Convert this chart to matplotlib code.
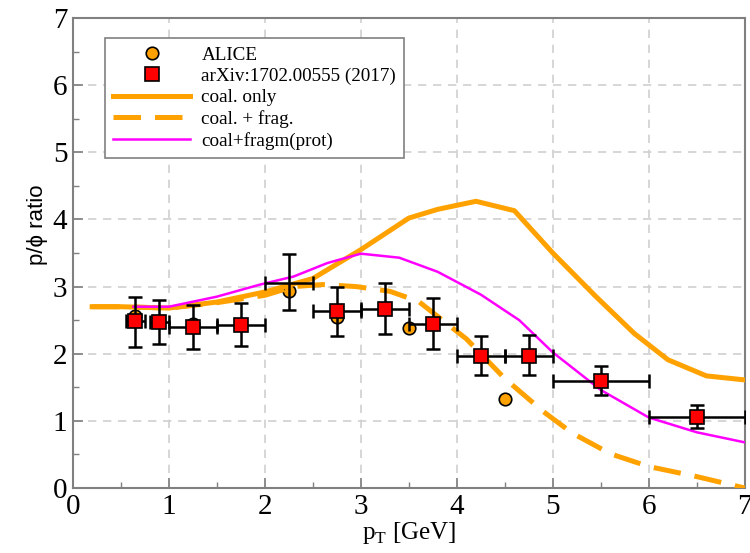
import matplotlib.pyplot as plt
import numpy as np

# arXiv:1702.00555 points
sq_x = [0.65, 0.9, 1.25, 1.75, 2.25, 2.75, 3.25, 3.75, 4.25, 4.75, 5.5, 6.5]
sq_y = [2.48, 2.47, 2.40, 2.43, 3.05, 2.63, 2.67, 2.44, 1.97, 1.97, 1.59, 1.06]
sq_xerr = [0.1, 0.1, 0.25, 0.25, 0.25, 0.25, 0.25, 0.25, 0.25, 0.25, 0.5, 0.5]
sq_ylo = [2.10, 2.15, 2.07, 2.12, 2.65, 2.27, 2.30, 2.07, 1.68, 1.68, 1.38, 0.90]
sq_yhi = [2.85, 2.80, 2.73, 2.75, 3.48, 3.00, 3.05, 2.83, 2.27, 2.28, 1.82, 1.23]
sq_show = [1, 1, 1, 1, 0, 1, 1, 1, 1, 1, 1, 1]

# ALICE
al_x = [0.65, 1.25, 2.25, 2.75, 3.5, 4.5]
al_y = [2.56, 2.45, 2.93, 2.55, 2.39, 1.32]

# coal. only
co_x = [0.2, 0.5, 1.0, 1.5, 2.0, 2.5, 3.0, 3.5, 3.8, 4.2, 4.6, 5.0, 5.45, 5.85, 6.2, 6.6, 7.0]
co_y = [2.70, 2.70, 2.68, 2.77, 2.92, 3.12, 3.55, 4.02, 4.15, 4.27, 4.13, 3.50, 2.85, 2.30, 1.91, 1.67, 1.61]

# coal. + frag.
cf_x = [0.2, 0.5, 1.0, 1.5, 2.0, 2.3, 2.6, 2.95, 3.3, 3.6, 4.1, 4.5, 4.9, 5.2, 5.6, 6.0, 6.5, 7.0]
cf_y = [2.70, 2.70, 2.68, 2.76, 2.87, 3.00, 3.03, 3.00, 2.93, 2.78, 2.22, 1.63, 1.14, 0.82, 0.51, 0.32, 0.17, 0.0]

# coal+fragm(prot)
cp_x = [0.63, 1.0, 1.5, 1.95, 2.3, 2.65, 3.0, 3.4, 3.8, 4.25, 4.65, 5.0, 5.5, 6.0, 6.5, 7.0]
cp_y = [2.70, 2.70, 2.85, 3.03, 3.15, 3.35, 3.49, 3.43, 3.22, 2.88, 2.50, 2.02, 1.46, 1.05, 0.83, 0.68]

orange = '#FFA200'

fig = plt.figure(figsize=(7.5, 5.53), dpi=100)
ax = fig.add_axes([0.0973, 0.1175, 0.8957, 0.85])

ax.plot(al_x, al_y, 'o', color=orange, mec='black', mew=1.2, ms=9, zorder=2,
        label='ALICE')
ax.plot(co_x, co_y, '-', color=orange, lw=3.6, zorder=3, label='coal. only')
ax.plot(cf_x, cf_y, '--', color=orange, lw=3.6, dashes=(5.5, 2.8), zorder=3,
        label='coal. + frag.')
ax.plot(cp_x, cp_y, '-', color='#FF00FF', lw=1.8, zorder=3, label='coal+fragm(prot)')

yerr = [np.array(sq_y) - np.array(sq_ylo), np.array(sq_yhi) - np.array(sq_y)]
ax.errorbar(sq_x, sq_y, xerr=sq_xerr, yerr=yerr, fmt='none', ecolor='black',
            elinewidth=1.8, capsize=5, capthick=1.8, zorder=4)
m = np.array(sq_show) == 1
ax.plot(np.array(sq_x)[m], np.array(sq_y)[m], 's', color='#FF0000',
        mec='black', mew=1.2, ms=9.5, zorder=5, label='arXiv:1702.00555 (2017)')

ax.set_xlim(0, 7)
ax.set_ylim(0, 7)
ax.set_xticks(range(8))
ax.set_yticks(range(8))
ax.set_xticks(np.arange(0.5, 7, 1), minor=True)
ax.set_yticks(np.arange(0.5, 7, 1), minor=True)
ax.tick_params(which='both', direction='in', color='#808080')
ax.tick_params(which='major', length=7, width=1.2, labelsize=21, pad=4)
ax.tick_params(which='minor', length=4, width=1.0)
for lab in ax.get_xticklabels() + ax.get_yticklabels():
    lab.set_family('Liberation Serif')
ax.grid(True, which='major', ls=(0, (5, 4)), color='#d0d0d0', lw=1.2)
for s in ax.spines.values():
    s.set_color('#808080')
    s.set_linewidth(1.5)

ax.set_xlabel(r'p$_\mathregular{T}$ [GeV]', family='Liberation Serif', fontsize=18,
              labelpad=0)
ax.set_ylabel('p/\u03d5 ratio', family='Liberation Sans', fontsize=16)
ax.yaxis.set_label_coords(-0.037, 0.56)

handles, labels = ax.get_legend_handles_labels()
order = ['ALICE', 'arXiv:1702.00555 (2017)', 'coal. only', 'coal. + frag.', 'coal+fragm(prot)']
hd = dict(zip(labels, handles))
leg = ax.legend([hd[k] for k in order], order, loc='upper left',
                bbox_to_anchor=(0.048, 0.957), borderaxespad=0,
                prop={'family': 'Liberation Serif', 'size': 13.8}, fancybox=False,
                framealpha=1, edgecolor='#808080', handlelength=4.0,
                labelspacing=0.2, borderpad=0.42, handletextpad=0.6)
leg.get_frame().set_linewidth(1.2)

fig.savefig('out.png', dpi=100)
